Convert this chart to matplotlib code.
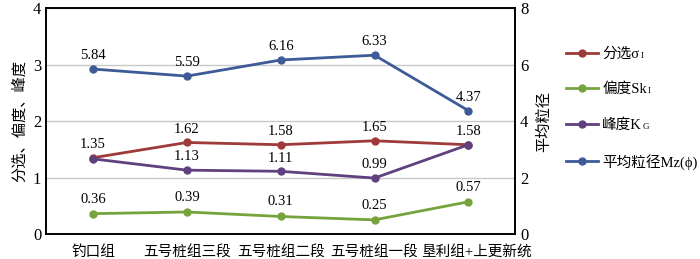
import matplotlib.pyplot as plt
import matplotlib.transforms as mtransforms
from matplotlib.lines import Line2D

plt.rcParams['font.family'] = ['Liberation Serif', 'Noto Sans CJK SC']

categories = ['钓口组', '五号桩组三段', '五号桩组二段', '五号桩组一段', '垦利组+上更新统']
sorting = [1.35, 1.62, 1.58, 1.65, 1.58]
skewness = [0.36, 0.39, 0.31, 0.25, 0.57]
kurtosis = [1.33, 1.13, 1.11, 0.99, 1.58]
mz = [5.84, 5.59, 6.16, 6.33, 4.37]

c_red = '#9E3A38'
c_green = '#77A33D'
c_purple = '#5F417D'
c_blue = '#3D5B97'

fig = plt.figure(figsize=(7, 2.59), dpi=100)
ax = fig.add_axes([0.066, 0.0965, 0.67, 0.8725])
ax2 = ax.twinx()

x = list(range(len(categories)))
ax.plot(x, sorting, color=c_red, lw=2, marker='o', ms=5)
ax.plot(x, skewness, color=c_green, lw=2, marker='o', ms=5)
ax.plot(x, kurtosis, color=c_purple, lw=2, marker='o', ms=5)
ax2.plot(x, mz, color=c_blue, lw=2, marker='o', ms=5)

fs = 10.5
for i, v in enumerate(sorting):
    ax.annotate(f'{v:.2f}', (i, v), xytext=(0, 7), textcoords='offset points', ha='center', fontsize=fs)
for i, v in enumerate(skewness):
    ax.annotate(f'{v:.2f}', (i, v), xytext=(0, 8), textcoords='offset points', ha='center', fontsize=fs)
for i in (1, 2, 3):
    ax.annotate(f'{kurtosis[i]:.2f}', (i, kurtosis[i]), xytext=(0, 7), textcoords='offset points', ha='center', fontsize=fs)
for i, v in enumerate(mz):
    ax2.annotate(f'{v:.2f}', (i, v), xytext=(0, 7), textcoords='offset points', ha='center', fontsize=fs)

ax.set_xlim(-0.5, 4.5)
ax.set_ylim(0, 4)
ax2.set_ylim(0, 8)
ax.set_yticks([0, 1, 2, 3, 4])
ax2.set_yticks([0, 2, 4, 6, 8])
ax.set_xticks(x)
ax.set_xticklabels(categories, fontsize=10.5)
ax.tick_params(axis='x', length=0, pad=8)
ax.tick_params(axis='y', length=0, labelsize=12)
ax2.tick_params(axis='y', length=0, labelsize=12)
ax.yaxis.grid(True, color='#C8C8C8', lw=1)
ax.set_axisbelow(True)
for sp in list(ax.spines.values()) + list(ax2.spines.values()):
    sp.set_linewidth(1.2)

# last label sits a little to the right, as in the original
last = ax.get_xticklabels()[-1]
last.set_transform(last.get_transform() + mtransforms.ScaledTranslation(8 / 100, 0, fig.dpi_scale_trans))

ax.set_ylabel('分选、偏度、峰度', fontsize=11, labelpad=4)
ax2.set_ylabel('平均粒径', fontsize=11, labelpad=6)

handles = [
    Line2D([], [], color=c_red, lw=2, marker='o', ms=5),
    Line2D([], [], color=c_green, lw=2, marker='o', ms=5),
    Line2D([], [], color=c_purple, lw=2, marker='o', ms=5),
    Line2D([], [], color=c_blue, lw=2, marker='o', ms=5),
]
labels = ['分选σ', '偏度Sk', '峰度K', '平均粒径Mz(ϕ)']
subs = ['I', 'I', 'G', '']
leg = fig.legend(handles, labels, loc='upper left', bbox_to_anchor=(0.8, 0.84), frameon=False,
                 fontsize=10.5, labelspacing=1.5, handlelength=2.2, handletextpad=0.3,
                 borderaxespad=0)

fig.canvas.draw()
r = fig.canvas.get_renderer()
for t, s in zip(leg.get_texts(), subs):
    if not s:
        continue
    bb = t.get_window_extent(r)
    fig.text((bb.x1 + 1) / fig.bbox.width, (bb.y0 + 1) / fig.bbox.height, s,
             fontsize=6.5, ha='left', va='bottom')

fig.savefig('out.png', dpi=100)
